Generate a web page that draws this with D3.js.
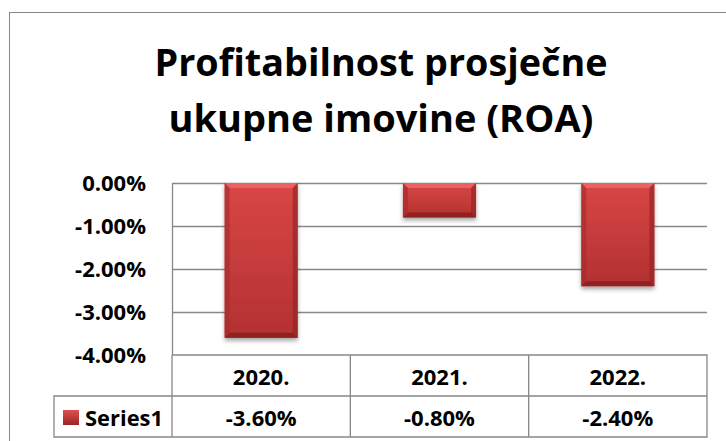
<html>
<head>
<meta charset="utf-8">
<style>
  body { margin: 0; background: #fff; }
  text { font-family: "Open Sans", Lato, sans-serif; font-weight: bold; fill: #000; }
</style>
</head>
<body>
<svg width="726" height="441"></svg>
<script src="https://d3js.org/d3.v7.min.js"></script>
<script>
// chart data
var titleLines = ["Profitabilnost prosječne", "ukupne imovine (ROA)"];
var years = ["2020.", "2021.", "2022."];
var roa = [-3.6, -0.8, -2.4];
var yTicks = [0, -1, -2, -3, -4];
var seriesName = "Series1";

var svg = d3.select("svg"),
    width = +svg.attr("width"),
    height = +svg.attr("height");

var plotLeft = 172, plotRight = 707, plotTop = 183, plotBottom = 355;
var rowH = 41, keyLeft = 54;
var grey = "#888";
var pct = function(v) { return v.toFixed(2) + "%"; };

var x = d3.scaleBand().domain(years).range([plotLeft, plotRight]);
var y = d3.scaleLinear().domain([0, -4]).range([plotTop, plotBottom]);

var defs = svg.append("defs");
var grad = defs.append("linearGradient").attr("id", "barFill")
  .attr("x1", 0).attr("y1", 0).attr("x2", 0).attr("y2", 1);
grad.append("stop").attr("offset", "0%").attr("stop-color", "#d94646");
grad.append("stop").attr("offset", "100%").attr("stop-color", "#b33131");
var shadow = defs.append("filter").attr("id", "shadow")
  .attr("x", "-20%").attr("y", "-20%").attr("width", "140%").attr("height", "140%");
shadow.append("feDropShadow").attr("dx", 0).attr("dy", 3)
  .attr("stdDeviation", 2).attr("flood-color", "#000").attr("flood-opacity", 0.35);

// outer chart border (runs off the right / bottom edge)
svg.append("rect")
  .attr("x", 9.5).attr("y", 12.5)
  .attr("width", width + 10).attr("height", height + 10)
  .attr("fill", "none").attr("stroke", grey);

// title, squeezed to the width of the original lines
var titleWidths = [453, 425];
svg.append("g").selectAll("text")
  .data(titleLines)
  .enter().append("text")
    .attr("x", 381)
    .attr("y", function(d, i) { return 76 + i * 56; })
    .attr("text-anchor", "middle")
    .attr("textLength", function(d, i) { return titleWidths[i]; })
    .attr("lengthAdjust", "spacingAndGlyphs")
    .style("font-size", "37px")
    .text(function(d) { return d; });

// gridlines
svg.append("g").selectAll("line")
  .data(yTicks.slice(0, -1))
  .enter().append("line")
    .attr("x1", plotLeft).attr("x2", plotRight)
    .attr("y1", function(d) { return Math.round(y(d)) + 0.5; })
    .attr("y2", function(d) { return Math.round(y(d)) + 0.5; })
    .attr("stroke", grey).attr("stroke-width", 1.3);

svg.append("line")
  .attr("x1", plotLeft + 0.5).attr("x2", plotLeft + 0.5)
  .attr("y1", plotTop).attr("y2", plotBottom)
  .attr("stroke", grey).attr("stroke-width", 1.3);

// y tick labels
svg.append("g").selectAll("text")
  .data(yTicks)
  .enter().append("text")
    .attr("x", 146)
    .attr("y", function(d) { return y(d) + 8; })
    .attr("text-anchor", "end")
    .style("font-size", "22px")
    .text(pct);

// bars with bevel
var barW = x.bandwidth() * 0.41;
var bars = svg.append("g").selectAll("g")
  .data(roa)
  .enter().append("g")
    .attr("transform", function(d, i) {
      return "translate(" + (x(years[i]) + (x.bandwidth() - barW) / 2) + "," + y(0) + ")";
    });

bars.append("rect")
  .attr("width", barW)
  .attr("height", function(d) { return y(d) - y(0); })
  .attr("fill", "url(#barFill)")
  .attr("filter", "url(#shadow)");

var bev = 5;
bars.append("path")
  .attr("d", function(d) {
    return "M0,0 L" + barW + ",0 L" + (barW - bev) + "," + bev + " L" + bev + "," + bev + "Z";
  })
  .attr("fill", "#ee6a6a").attr("opacity", 0.8);
bars.append("path")
  .attr("d", function(d) {
    var h = y(d) - y(0);
    return "M0," + h + " L" + barW + "," + h + " L" + (barW - bev) + "," + (h - bev) + " L" + bev + "," + (h - bev) + "Z";
  })
  .attr("fill", "#8a1f1f").attr("opacity", 0.85);
bars.append("path")
  .attr("d", function(d) {
    var h = y(d) - y(0);
    return "M0,0 L" + bev + "," + bev + " L" + bev + "," + (h - bev) + " L0," + h + "Z";
  })
  .attr("fill", "#a52a2a").attr("opacity", 0.6);
bars.append("path")
  .attr("d", function(d) {
    var h = y(d) - y(0);
    return "M" + barW + ",0 L" + (barW - bev) + "," + bev + " L" + (barW - bev) + "," + (h - bev) + " L" + barW + "," + h + "Z";
  })
  .attr("fill", "#8f2222").attr("opacity", 0.6);

// data table
var table = svg.append("g").attr("fill", "none").attr("stroke", grey).attr("stroke-width", 1.3);
table.append("path")
  .attr("d",
    "M" + plotLeft + "," + plotBottom + " H" + plotRight + " V" + (plotBottom + 2 * rowH) +
    " H" + keyLeft + " V" + (plotBottom + rowH) + " H" + plotRight +
    " M" + plotLeft + "," + plotBottom + " V" + (plotBottom + 2 * rowH));
table.selectAll("line.col")
  .data(years.slice(1))
  .enter().append("line")
    .attr("x1", function(d) { return x(d); }).attr("x2", function(d) { return x(d); })
    .attr("y1", plotBottom).attr("y2", plotBottom + 2 * rowH);

svg.append("g").selectAll("text")
  .data(years)
  .enter().append("text")
    .attr("x", function(d) { return x(d) + x.bandwidth() / 2; })
    .attr("y", plotBottom + 30)
    .attr("text-anchor", "middle")
    .style("font-size", "22px")
    .text(function(d) { return d; });

svg.append("g").selectAll("text")
  .data(roa)
  .enter().append("text")
    .attr("x", function(d, i) { return x(years[i]) + x.bandwidth() / 2; })
    .attr("y", plotBottom + rowH + 30)
    .attr("text-anchor", "middle")
    .style("font-size", "22px")
    .text(pct);

// legend key
var keyGrad = defs.append("linearGradient").attr("id", "keyFill")
  .attr("x1", 0).attr("y1", 0).attr("x2", 0).attr("y2", 1);
keyGrad.append("stop").attr("offset", "0%").attr("stop-color", "#e05050");
keyGrad.append("stop").attr("offset", "100%").attr("stop-color", "#9a2626");
svg.append("rect")
  .attr("x", 63).attr("y", 410).attr("width", 16).attr("height", 15)
  .attr("fill", "url(#keyFill)");
svg.append("text")
  .attr("x", 85).attr("y", plotBottom + rowH + 30)
  .attr("textLength", 78)
  .attr("lengthAdjust", "spacingAndGlyphs")
  .style("font-size", "22px")
  .text(seriesName);
</script>
</body>
</html>
